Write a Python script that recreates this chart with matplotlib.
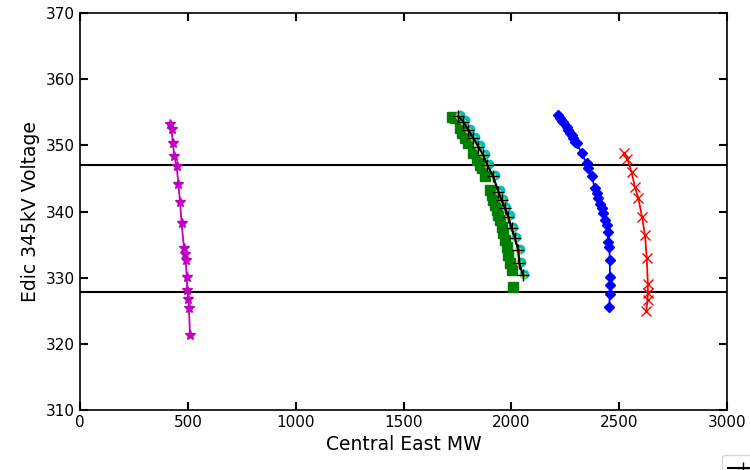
import matplotlib

matplotlib.use("Agg")

import matplotlib.pyplot as plt
from matplotlib.lines import Line2D

# limits (kV)
upper_limit = 347.0
lower_limit = 327.8

# magenta, stars
mag_mw = [417, 425, 430, 437, 448, 456, 464, 471, 482, 487, 490, 495, 497, 502, 505, 510]
mag_kv = [353.2, 352.4, 350.3, 348.4, 346.9, 344.2, 341.4, 338.2, 334.5, 333.6, 332.7,
          330.1, 328.1, 326.8, 325.4, 321.3]

# green squares
grn_mw = [1723, 1739, 1762, 1770, 1785, 1801, 1824, 1839, 1855, 1862, 1878, 1901, 1909,
          1916, 1924, 1932, 1940, 1947, 1955, 1963, 1971, 1978, 1986, 1994, 2001, 2009]
grn_kv = [354.3, 354.1, 352.6, 351.8, 351.1, 350.3, 348.8, 347.8, 347.0, 346.5, 345.3,
          343.2, 342.5, 341.7, 341.0, 340.2, 339.5, 338.7, 337.7, 336.7, 335.7, 334.7,
          333.4, 332.2, 331.2, 328.6]

# black "+" case (cyan / yellow drawn nearly on top of it)
blk_mw = [1754, 1777, 1801, 1824, 1847, 1870, 1889, 1916, 1940, 1955, 1971, 1986, 2001,
          2017, 2032, 2037, 2053]
blk_kv = [354.4, 353.6, 352.3, 351.1, 349.8, 348.5, 347.0, 345.3, 343.0, 341.7, 340.5,
          339.2, 337.5, 336.0, 334.2, 332.2, 330.4]
cyan_mw = [1760, 1783, 1807, 1830, 1853, 1876, 1895, 1922, 1946, 1961, 1977, 1992, 2007,
           2023, 2038, 2043, 2059]
cyan_kv = [354.6, 353.8, 352.5, 351.3, 350.0, 348.7, 347.2, 345.5, 343.2, 341.9, 340.7,
           339.4, 337.7, 336.2, 334.4, 332.4, 330.6]

# blue diamonds
blu_mw = [2218, 2226, 2233, 2241, 2257, 2264, 2272, 2280, 2287, 2295, 2303, 2326, 2349,
          2357, 2372, 2388, 2396, 2403, 2411, 2419, 2426, 2434, 2442, 2450, 2450, 2454,
          2457, 2457, 2457, 2457, 2454]
blu_kv = [354.6, 354.2, 353.7, 353.6, 352.8, 352.3, 351.8, 351.5, 351.1, 350.5, 350.3,
          348.8, 347.3, 346.5, 345.3, 343.5, 342.8, 342.0, 341.2, 340.5, 339.7, 338.7,
          338.0, 336.9, 335.4, 334.7, 332.7, 330.1, 328.9, 327.6, 325.5]

# red crosses
red_mw = [2522, 2538, 2558, 2573, 2589, 2606, 2620, 2628, 2633, 2633, 2632, 2625]
red_kv = [348.8, 348.0, 345.9, 343.7, 342.0, 339.2, 336.4, 332.9, 329.1, 327.7, 326.6, 324.9]

fig = plt.figure(figsize=(7.5, 4.7), dpi=100)
ax = fig.add_axes([0.1067, 0.1277, 0.8626, 0.8446])

ax.axhline(upper_limit, color="black", linewidth=1.5)
ax.axhline(lower_limit, color="black", linewidth=1.5)

ax.plot(mag_mw, mag_kv, color="#c000c0", marker="*", markersize=7, linewidth=1.3)
ax.plot(grn_mw, grn_kv, color="green", marker="s", markersize=7.5, linestyle="none")
ax.plot(cyan_mw, cyan_kv, color="#00c0c0", marker="o", markersize=6, linestyle="none")
ax.plot(blk_mw, blk_kv, color="#d8d800", marker="o", markersize=3.5, linestyle="none")
ax.plot(blk_mw, blk_kv, color="black", marker="+", markersize=8, linewidth=1.5)
ax.plot(blu_mw, blu_kv, color="blue", marker="D", markersize=5, linewidth=1.3)
ax.plot(red_mw, red_kv, color="red", marker="x", markersize=7, linewidth=1.3)

ax.set_xlim(0, 3000)
ax.set_ylim(310, 370)
ax.set_xticks([0, 500, 1000, 1500, 2000, 2500, 3000])
ax.set_yticks([310, 320, 330, 340, 350, 360, 370])
ax.tick_params(direction="in", top=True, right=True, length=6, width=1.5, labelsize=11)
for side in ax.spines.values():
    side.set_linewidth(1.2)

ax.set_xlabel("Central East MW", fontsize=13.5)
ax.set_ylabel("Edic 345kV Voltage", fontsize=13.5)

# legend sits mostly outside the canvas, as in the source figure
fig.legend([Line2D([0], [0], color="black", marker="+", linewidth=1.5, markersize=8)],
           [""], loc="upper left", bbox_to_anchor=(0.9627, 0.032),
           borderaxespad=0, fontsize=11, frameon=True)

fig.savefig("out.png", dpi=100)
